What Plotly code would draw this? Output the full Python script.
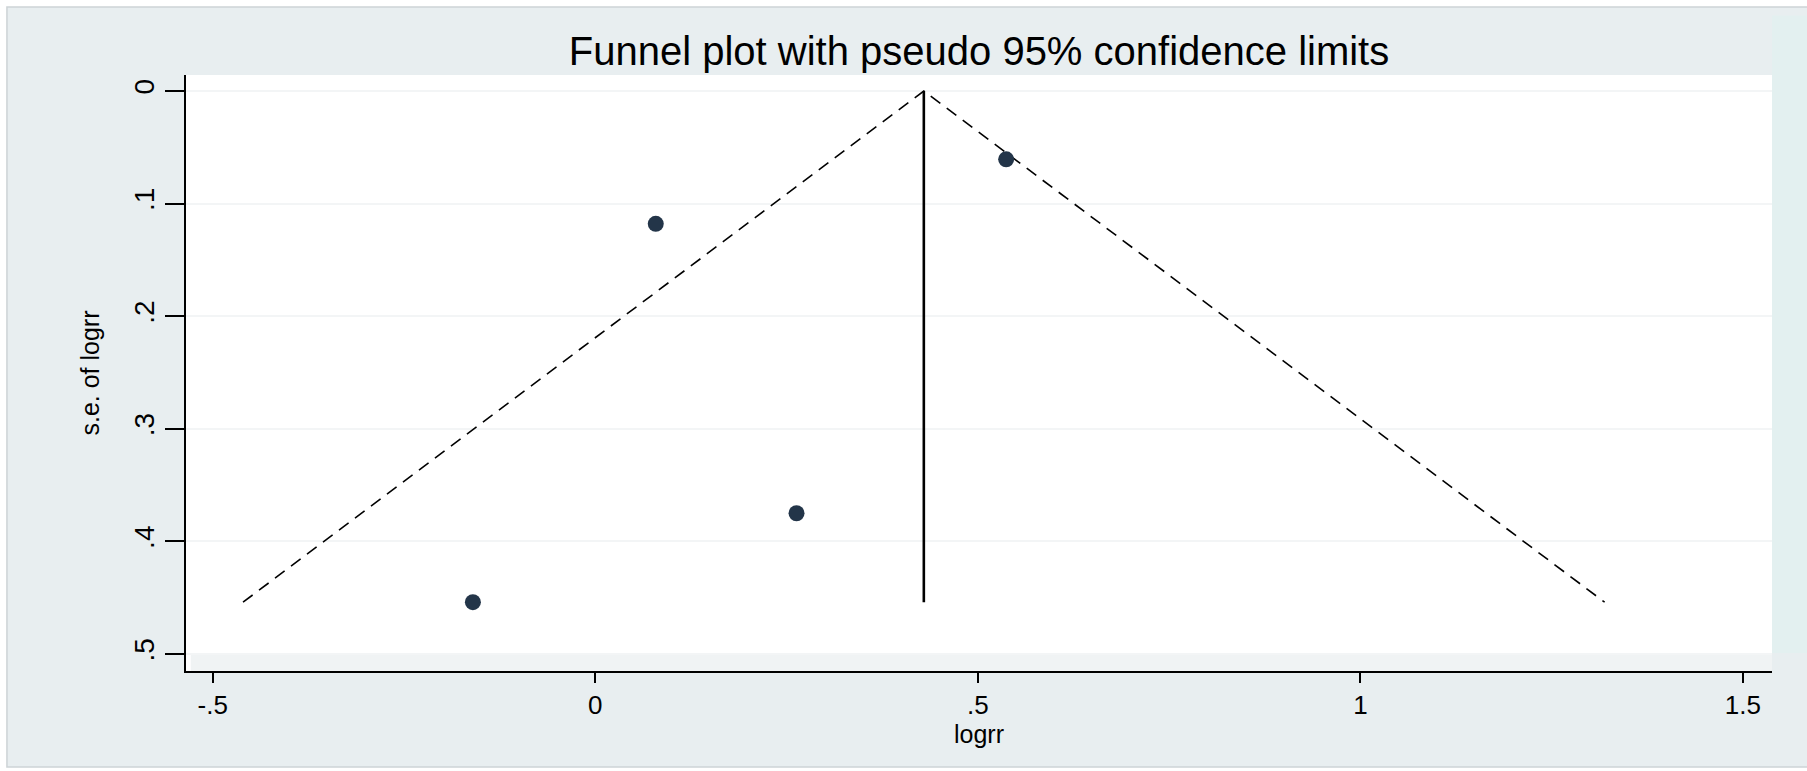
import plotly.graph_objects as go

# Study estimates
logrr = [0.079, 0.537, 0.263, -0.160]
se_logrr = [0.118, 0.0607, 0.375, 0.454]

x_tickvals = [-0.5, 0, 0.5, 1, 1.5]
x_ticktext = ["-.5", "0", ".5", "1", "1.5"]
y_tickvals = [0, 0.1, 0.2, 0.3, 0.4, 0.5]
y_ticktext = ["0", ".1", ".2", ".3", ".4", ".5"]

# fixed-effect pooled estimate (inverse variance)
weights = [1 / s ** 2 for s in se_logrr]
pooled = sum(w * b for w, b in zip(weights, logrr)) / sum(weights)
se_max = max(se_logrr)
z = 1.96

OUTER = "#E8EEF0"
FONT = "Liberation Sans, Arial, sans-serif"

fig = go.Figure()

# pseudo 95% confidence limits
fig.add_trace(go.Scatter(
    x=[pooled - z * se_max, pooled, pooled + z * se_max],
    y=[se_max, 0, se_max],
    mode="lines",
    line=dict(color="black", width=1.6, dash="12px,8px"),
    hoverinfo="skip", showlegend=False,
))
# pooled estimate line
fig.add_trace(go.Scatter(
    x=[pooled, pooled], y=[0, se_max],
    mode="lines",
    line=dict(color="black", width=2.6),
    hoverinfo="skip", showlegend=False,
))
# studies
fig.add_trace(go.Scatter(
    x=logrr, y=se_logrr,
    mode="markers",
    marker=dict(color="#233549", size=16, line=dict(width=0)),
    showlegend=False,
))

fig.update_layout(
    width=1807, height=771,
    margin=dict(l=186, r=35, t=75, b=100),
    paper_bgcolor=OUTER,
    plot_bgcolor="white",
    font=dict(family=FONT, color="black", size=26),
    title=dict(
        text="Funnel plot with pseudo 95% confidence limits",
        font=dict(family=FONT, size=40, color="black"),
        x=0.5, xref="paper", xanchor="center",
        y=1 - 51 / 771, yref="container", yanchor="middle",
    ),
    shapes=[
        # white margin outside the graph outline
        dict(type="rect", xref="paper", yref="paper",
             x0=-0.2, x1=-0.1129, y0=-0.3, y1=1.3,
             fillcolor="white", line=dict(width=0), layer="below"),
        dict(type="rect", xref="paper", yref="paper",
             x0=-0.2, x1=1.1, y0=1.114, y1=1.3,
             fillcolor="white", line=dict(width=0), layer="below"),
        dict(type="rect", xref="paper", yref="paper",
             x0=-0.2, x1=1.1, y0=-0.3, y1=-0.161,
             fillcolor="white", line=dict(width=0), layer="below"),
        # graph outline
        dict(type="rect", xref="paper", yref="paper",
             x0=-0.1129, x1=1.05, y0=-0.161, y1=1.114,
             fillcolor="rgba(0,0,0,0)", line=dict(color="#CDD3D6", width=1.5),
             layer="below"),
        # slight tint at the right edge
        dict(type="rect", xref="paper", yref="paper",
             x0=1.0, x1=1.05, y0=0.03, y1=1.1,
             fillcolor="#E3F0F0", line=dict(width=0), layer="below"),
        # strip between plot region and x-axis
        dict(type="rect", xref="x domain", yref="y domain",
             x0=0.003, x1=1, y0=0, y1=0.027,
             fillcolor="#F0F3F4", line=dict(width=0), layer="below"),
    ],
)

fig.update_xaxes(
    range=[-0.535, 1.538],
    tickvals=x_tickvals, ticktext=x_ticktext,
    showline=True, linecolor="black", linewidth=1.5,
    ticks="outside", ticklen=10, tickwidth=1.5, tickcolor="black",
    showgrid=False, zeroline=False,
    tickfont=dict(size=26),
    title=dict(text="logrr", font=dict(size=25), standoff=2),
    mirror=False,
)
fig.update_yaxes(
    range=[0.5151, -0.0142],
    tickvals=y_tickvals, ticktext=y_ticktext,
    showline=True, linecolor="black", linewidth=1.5,
    ticks="outside", ticklen=19, tickwidth=1.5, tickcolor="black",
    tickangle=-90,
    showgrid=True, gridcolor="#F3F5F6", gridwidth=1.5,
    zeroline=False,
    tickfont=dict(size=28),
    title=dict(text="s.e. of logrr", font=dict(size=25), standoff=22),
)

fig.write_html("out.html")
